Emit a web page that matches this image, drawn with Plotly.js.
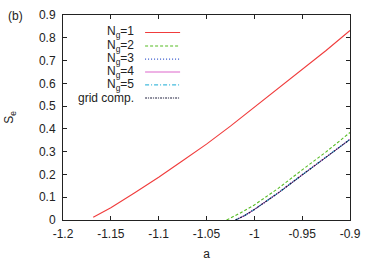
<!DOCTYPE html>
<html><head><meta charset="utf-8">
<script src="https://cdn.plot.ly/plotly-3.0.1.min.js"></script>
<style>html,body{margin:0;padding:0;background:#fff}#c{width:374px;height:262px}</style>
</head><body><div id="c"></div>
<script>
// Data
const aNg1 = [-1.1684, -1.15, -1.125, -1.1, -1.075, -1.05, -1.025, -1.0, -0.975, -0.95, -0.925, -0.9];
const sNg1 = [0.012, 0.054, 0.120, 0.188, 0.260, 0.333, 0.412, 0.494, 0.576, 0.659, 0.744, 0.832];
const aNg2 = [-1.029, -1.015, -1.0, -0.975, -0.95, -0.925, -0.9];
const sNg2 = [0.0, 0.030, 0.066, 0.139, 0.220, 0.299, 0.384];
const aNg3 = [-1.0196, -1.01, -1.0, -0.975, -0.95, -0.925, -0.9];
const sNg3 = [0.0, 0.020, 0.046, 0.119, 0.198, 0.274, 0.354];
const aNg4 = aNg3, sNg4 = sNg3;
const aNg5 = aNg3, sNg5 = sNg3;
const aGrid = aNg3, sGrid = sNg3;
const xTicks = [-1.2,-1.15,-1.1,-1.05,-1,-0.95,-0.9];
const xTickText = ['-1.2','-1.15','-1.1','-1.05','-1','-0.95','-0.9'];
const yTicks = [0,0.1,0.2,0.3,0.4,0.5,0.6,0.7,0.8,0.9];
const yTickText = ['0','0.1','0.2','0.3','0.4','0.5','0.6','0.7','0.8','0.9'];

const names = ['N<sub>g</sub>=1','N<sub>g</sub>=2','N<sub>g</sub>=3','N<sub>g</sub>=4','N<sub>g</sub>=5','grid comp.'];
const colors = ['#f03c3c','#55bb22','#3355cc','#dd66cc','#44bbdd','#1a1a3a'];
const dashes = ['solid','3px,2px','1px,2px','solid','4px,2px,1px,2px','2px,1px,1px,1px'];
const xs = [aNg1,aNg2,aNg3,aNg4,aNg5,aGrid];
const ys = [sNg1,sNg2,sNg3,sNg4,sNg5,sGrid];

const traces = xs.map((x,i)=>({x:x, y:ys[i], type:'scatter', mode:'lines', name:names[i],
  line:{color:colors[i], width:1.1, dash:dashes[i]}, showlegend:false, hoverinfo:'skip'}));

const font = {family:'Liberation Sans, Arial, sans-serif', size:12, color:'#222'};
const legY = [0.915,0.849,0.785,0.722,0.659,0.595];
const annotations = names.map((n,i)=>({xref:'paper', yref:'paper', x:0.254, y:legY[i], xanchor:'right', yanchor:'middle',
  text:n, showarrow:false, font:font}));
annotations.push({xref:'paper', yref:'paper', x:-0.164, y:0.995, xanchor:'center', yanchor:'middle', text:'(b)', showarrow:false, font:font});
const shapes = names.map((n,i)=>({type:'line', xref:'paper', yref:'paper', x0:0.286, x1:0.408, y0:legY[i], y1:legY[i],
  line:{color:colors[i], width:1.1, dash:dashes[i]}}));

const layout = {
  width:374, height:262,
  margin:{l:63, r:24, t:15, b:42},
  paper_bgcolor:'#fff', plot_bgcolor:'#fff',
  font:font,
  showlegend:false,
  xaxis:{range:[-1.2,-0.9], tickvals:xTicks, ticktext:xTickText, ticklabelstandoff:3,
    ticks:'inside', ticklen:4, tickcolor:'#222', showline:true, linecolor:'#222', linewidth:1, mirror:'allticks',
    showgrid:false, zeroline:false, title:{text:'a', font:font, standoff:9}, automargin:false},
  yaxis:{range:[0,0.9], tickvals:yTicks, ticktext:yTickText, ticklabelstandoff:4,
    ticks:'inside', ticklen:4, tickcolor:'#222', showline:true, linecolor:'#222', linewidth:1, mirror:'allticks',
    showgrid:false, zeroline:false, title:{text:'S<sub>e</sub>', font:font, standoff:22}, automargin:false},
  annotations:annotations, shapes:shapes
};
Plotly.newPlot('c', traces, layout, {staticPlot:true, displayModeBar:false});
</script></body></html>
